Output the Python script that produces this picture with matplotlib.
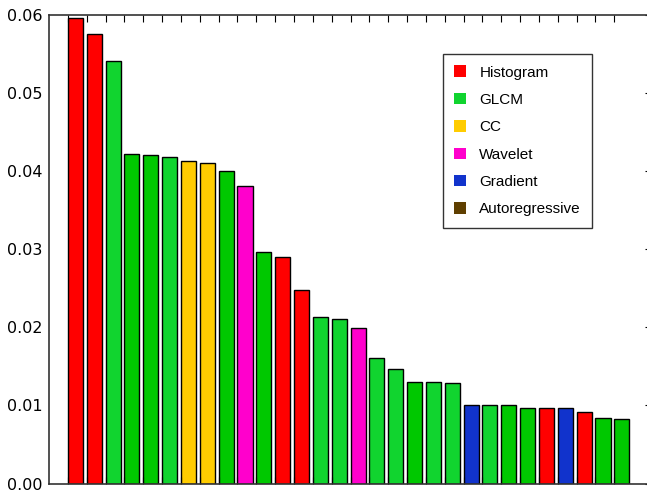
import matplotlib
matplotlib.use('Agg')
import matplotlib.pyplot as plt
import matplotlib.patches as patches

# Feature importances, sorted, with the family each feature belongs to
importances = [0.0595, 0.0575, 0.0540, 0.0422, 0.0420, 0.0418, 0.0412, 0.0410,
               0.0400, 0.0380, 0.0296, 0.0290, 0.0247, 0.0213, 0.0211, 0.0199,
               0.0160, 0.0146, 0.0130, 0.0130, 0.0129, 0.0100, 0.0100, 0.0100,
               0.0096, 0.0096, 0.0096, 0.0091, 0.0084, 0.0082]
bar_colors = ['#ff0000', '#ff0000', '#11d42f', '#00c800', '#00c800', '#11d42f',
              '#ffcc00', '#ffcc00', '#00c800', '#ff00cc', '#00c800', '#ff0000',
              '#ff0000', '#11d42f', '#11d42f', '#ff00cc', '#11d42f', '#11d42f',
              '#00c800', '#11d42f', '#11d42f', '#1133cc', '#11d42f', '#00c800',
              '#00c800', '#ff0000', '#1133cc', '#ff0000', '#00c800', '#00c800']
families = ['Histogram', 'GLCM', 'CC', 'Wavelet', 'Gradient', 'Autoregressive']
family_colors = ['#ff0000', '#11d42f', '#ffcc00', '#ff00cc', '#1133cc', '#5f3f00']
yticks = [0.0, 0.01, 0.02, 0.03, 0.04, 0.05, 0.06]

fig = plt.figure(figsize=(6.47, 4.91), dpi=100)
ax = fig.add_axes([49 / 647, 7.5 / 491, 603 / 647, 469 / 491])

x = list(range(len(importances)))
ax.bar(x, importances, width=0.8, align='edge', color=bar_colors,
       edgecolor='black', linewidth=1)

ax.set_xlim(-1, 31)
ax.set_ylim(0, 0.06)
ax.set_xticks(x)
ax.set_xticklabels([])
ax.set_yticks(yticks)
ax.set_yticklabels(['%.2f' % v for v in yticks], fontsize=11.5)
ax.tick_params(axis='x', direction='in', top=True, bottom=True, length=5)
ax.tick_params(axis='y', direction='in', left=False, right=True, length=5, pad=4.5)
for s in ax.spines.values():
    s.set_color('#333333')
    s.set_linewidth(1.2)

handles = [patches.Patch(facecolor=c, edgecolor='none') for c in family_colors]
leg = ax.legend(handles, families, loc='upper left',
                bbox_to_anchor=(443 / 647, 1 - 54 / 491),
                bbox_transform=fig.transFigure, borderaxespad=0,
                prop={'family': 'Liberation Sans', 'size': 11},
                fancybox=False, framealpha=1, edgecolor='#333333',
                handlelength=0.78, handleheight=0.78, handletextpad=0.85,
                labelspacing=0.87, borderpad=0.75)
leg.get_frame().set_linewidth(1)

fig.savefig('out.png', dpi=100)
